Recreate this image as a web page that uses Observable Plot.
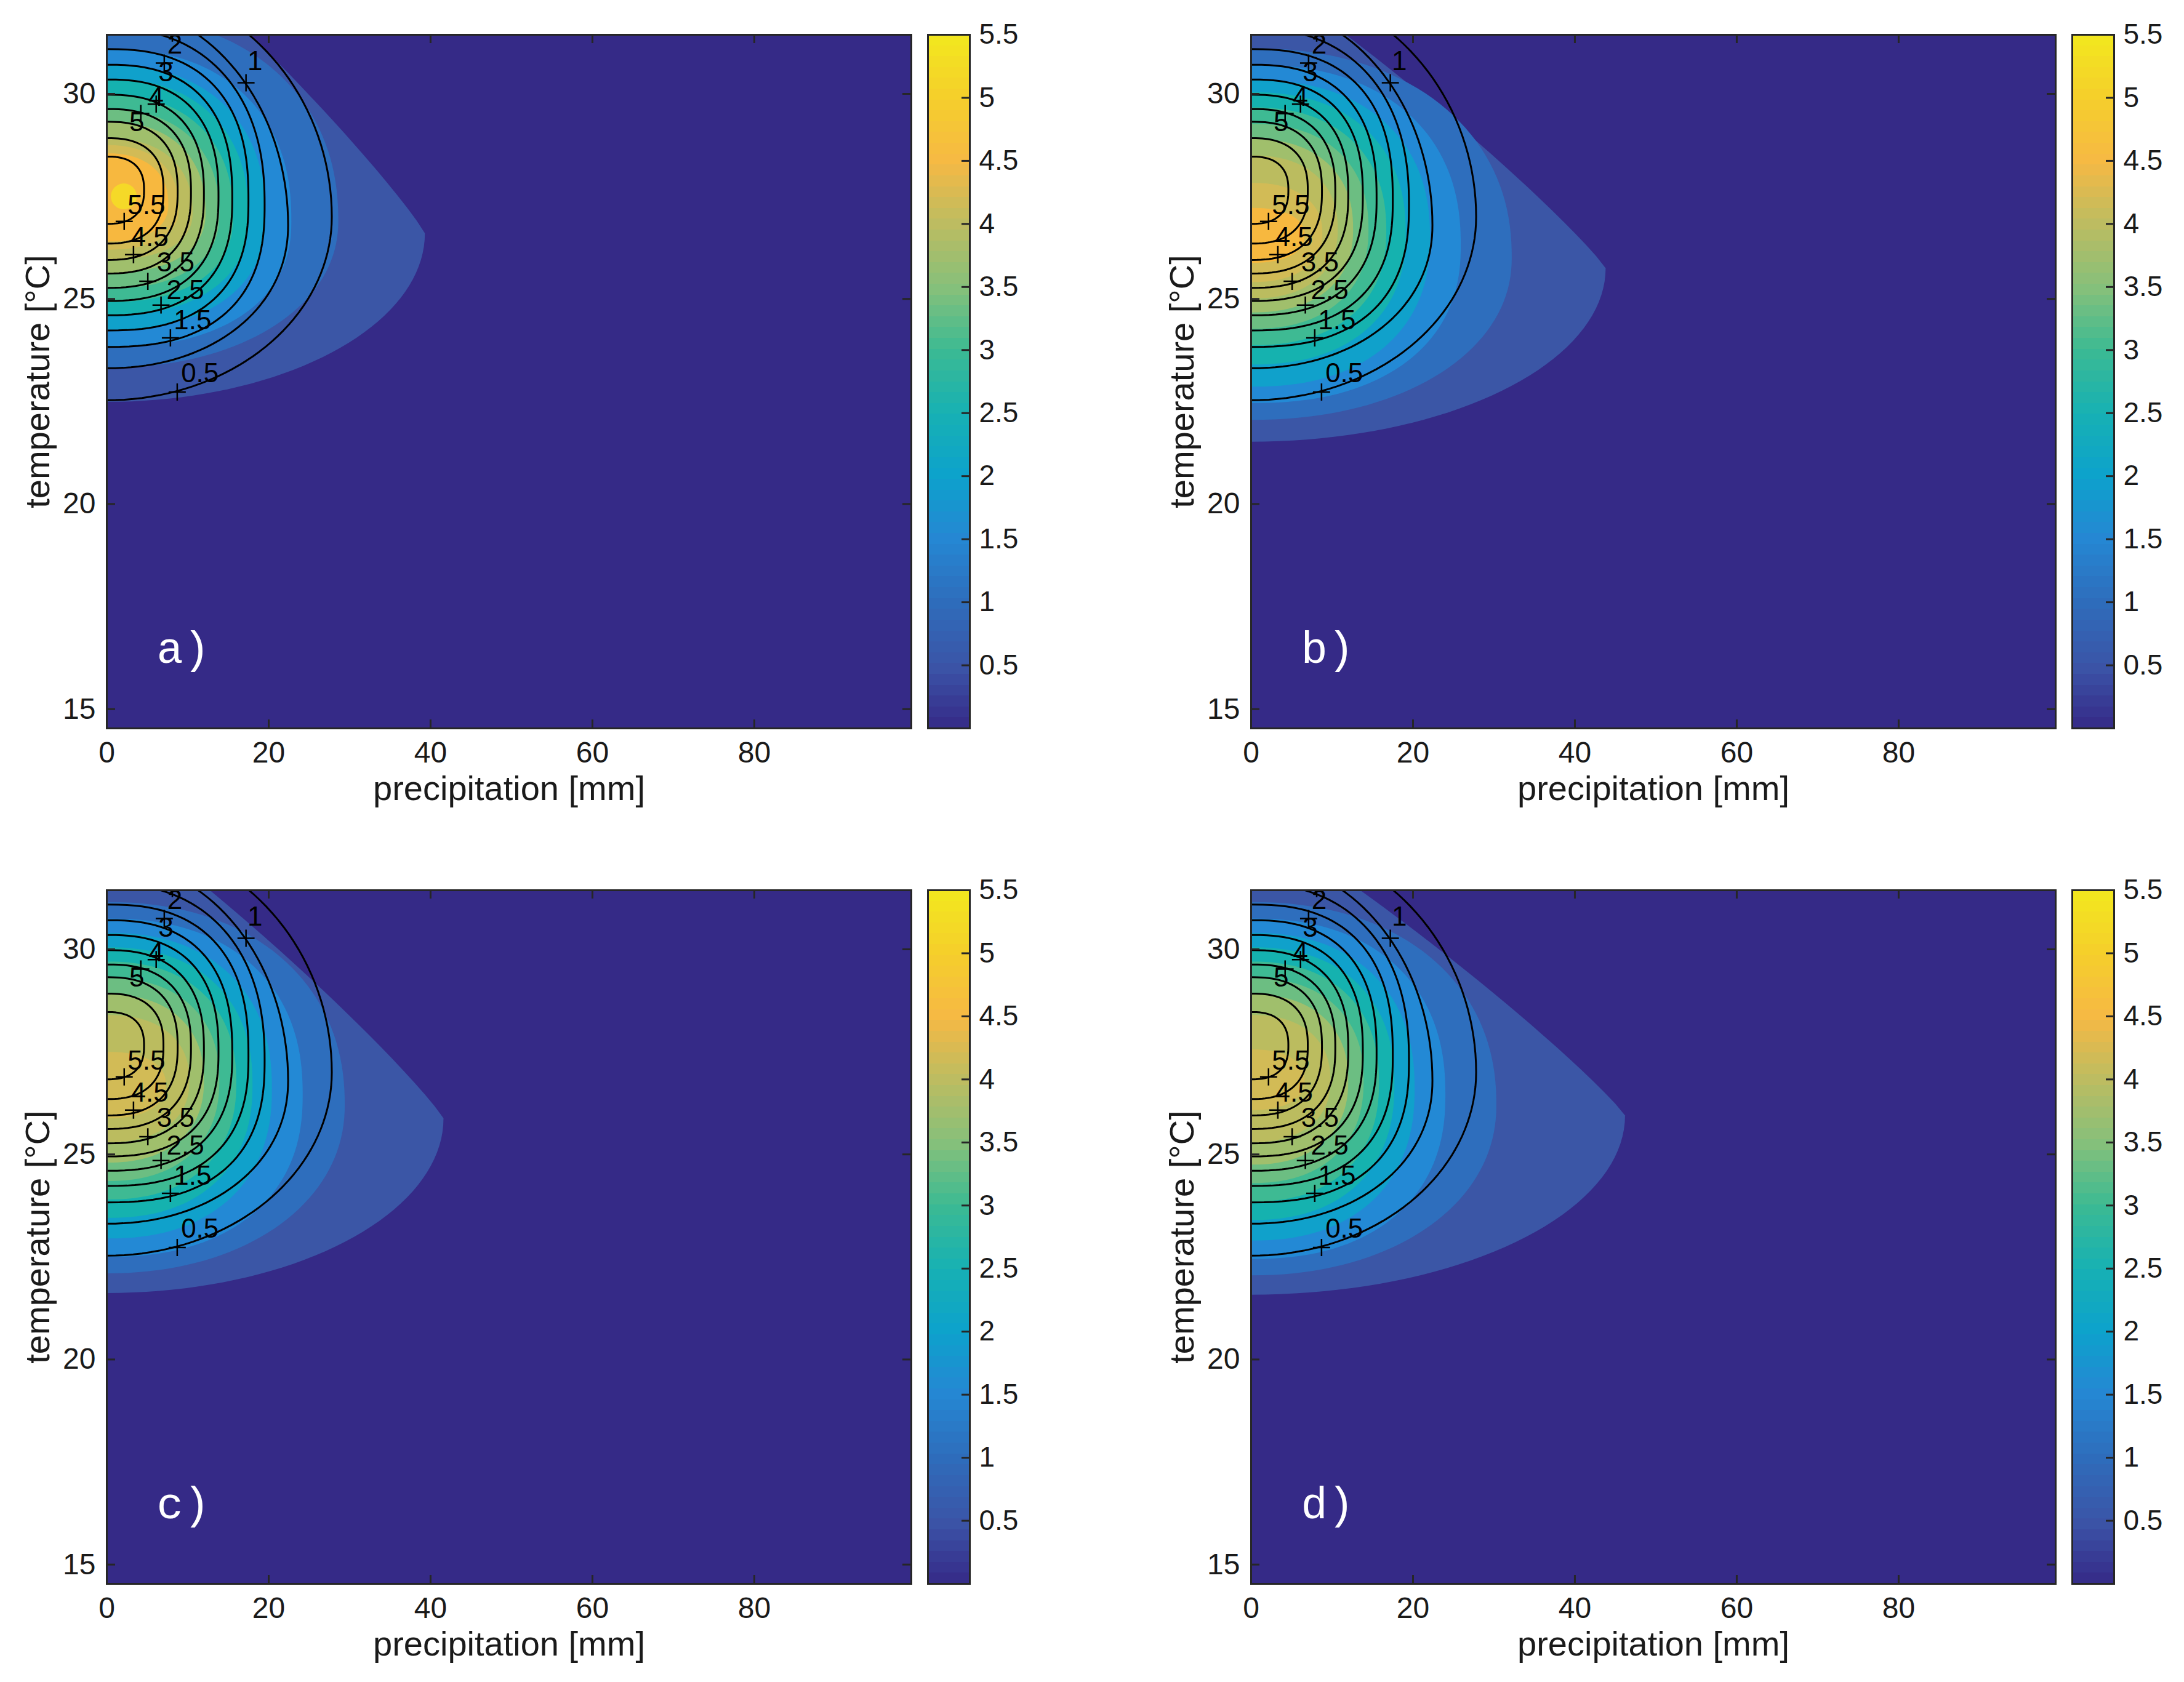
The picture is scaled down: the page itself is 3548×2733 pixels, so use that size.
<!DOCTYPE html>
<html><head><meta charset="utf-8">
<script src="https://cdn.jsdelivr.net/npm/d3@7"></script>
<script src="https://cdn.jsdelivr.net/npm/@observablehq/plot@0.6"></script>
<style>
body{margin:0;background:#fff;}
#chart{position:relative;width:3548px;height:2733px;background:#fff;overflow:hidden;}
.pane{position:absolute;}
.pane svg{max-width:none !important;}
</style></head><body><div id="chart"></div>
<script>
// ---------- axes ----------
const xTicks = [0, 20, 40, 60, 80];
const yTicks = [15, 20, 25, 30];
const cbTicks = [0.5, 1, 1.5, 2, 2.5, 3, 3.5, 4, 4.5, 5, 5.5];
const panelLetters = ["a)", "b)", "c)", "d)"];

// ---------- black reference contours (same in every panel) ----------
const refLevels  = [0.5, 1, 1.5, 2, 2.5, 3, 3.5, 4, 4.5, 5, 5.5];
const refBottomT = [22.53, 23.31, 23.83, 24.23, 24.60, 24.95, 25.27, 25.62, 25.95, 26.35, 26.83];
const refTopT    = [32.73, 32.17, 31.60, 31.09, 30.71, 30.35, 29.98, 29.63, 29.32, 28.92, 28.47];
const refReachP  = [27.8, 22.4, 19.5, 17.5, 15.5, 13.8, 12.0, 10.4, 8.75, 7.0, 4.6];
const refReachT  = [27.0, 26.8, 27.3, 27.4, 27.45, 27.5, 27.55, 27.6, 27.62, 27.64, 27.65];
const refLowerN  = [2.0, 2.1, 2.5, 2.5, 2.5, 2.5, 2.5, 2.5, 2.5, 2.5, 2.5];
const refUpperN  = [2.0, 2.0, 2.3, 2.5, 2.5, 2.5, 2.5, 2.5, 2.5, 2.5, 2.5];
// contour labels ("+" marker and text)
const labelText  = ["0.5", "1", "1.5", "2", "2.5", "3", "3.5", "4", "4.5", "5", "5.5"];
const labelP     = [11.5, 18.3, 10.6, 8.4, 9.7, 7.3, 8.5, 6.1, 5.3, 3.7, 4.9];
const labelT     = [23.18, 30.79, 24.47, 31.2, 25.2, 30.52, 25.88, 29.92, 26.5, 29.3, 27.28];
const plusP      = [8.7, 17.2, 7.86, 8.1, 6.7, 7.1, 5.07, 6.1, 3.3, 4.2, 2.15];
const plusT      = [22.73, 30.27, 24.05, 31.48, 24.85, 30.75, 25.43, 29.75, 26.08, 29.52, 26.89];

// ---------- filled contours ----------
const fillLevels = [0, 0.5, 1, 1.5, 2, 2.5, 3, 3.5, 4, 4.5, 5, 5.5];
const fillLowerN = [2.0, 2.1, 2.3, 2.3, 2.3, 2.3, 2.3, 2.3, 2.3, 2.3, 2.3];
const fillUpperN = [1.1, 2.2, 2.3, 2.3, 2.3, 2.3, 2.3, 2.3, 2.3, 2.3, 2.3];
// panel a
const aBottomT = [22.49, 23.32, 23.82, 24.25, 24.6, 24.92, 25.25, 25.63, 25.95, 26.2, 26.4];
const aTopT    = [34.5, 31.9, 31.1, 30.7, 30.37, 29.97, 29.62, 29.32, 28.92, 28.75, 28.55];
const aReachP  = [39.3, 28.6, 22.8, 19.6, 17.5, 15.6, 13.9, 12.2, 10.6, 8.9, 7.6];
const aReachT  = [26.6, 26.9, 26.9, 27.0, 27.0, 27.0, 27.05, 27.1, 27.1, 27.2, 27.3];
const aPeak    = [{level: 5.5, P: 2.1, T: 27.5}];
// panel b
const bBottomT = [21.52, 22.05, 22.46, 22.86, 23.40, 23.87, 24.27, 24.67, 25.01, 25.41, 25.88];
const bTopT    = [33.0, 31.11, 30.71, 30.34, 30.04, 29.67, 29.27, 28.9, 28.5, 27.83, 27.22];
const bReachP  = [43.8, 32.2, 25.9, 22.1, 19.1, 16.7, 14.5, 12.6, 10.7, 8.8, 6.6];
const bReachT  = [25.75, 26.0, 26.3, 26.5, 26.6, 26.65, 26.7, 26.7, 26.7, 26.6, 26.55];
// panel c
const cBottomT = [21.62, 22.1, 22.5, 22.95, 23.45, 23.9, 24.35, 24.8, 25.3, 25.88];
const cTopT    = [33.3, 31.15, 30.75, 30.4, 30.05, 29.7, 29.3, 28.9, 28.4, 27.5];
const cReachP  = [41.6, 29.4, 24.2, 20.4, 18.0, 16.0, 13.9, 12.0, 10.2, 7.3];
const cReachT  = [25.88, 26.2, 26.45, 26.6, 26.7, 26.75, 26.8, 26.8, 26.8, 26.7];
// panel d
const dBottomT = [21.58, 22.05, 22.45, 22.9, 23.4, 23.85, 24.3, 24.75, 25.3, 26.08];
const dTopT    = [33.15, 31.15, 30.75, 30.4, 30.05, 29.7, 29.3, 28.9, 28.4, 27.56];
const dReachP  = [46.2, 30.3, 24.0, 20.2, 17.7, 15.8, 13.9, 12.0, 9.8, 6.6];
const dReachT  = [25.95, 26.2, 26.45, 26.6, 26.7, 26.75, 26.8, 26.8, 26.8, 26.8];

// ---------- styles ----------
const bgColor = "#352A87";
const bandColors = ["#3B56A6","#2E6EBD","#2389D5","#10A1CB","#15B2AF","#3EBA93","#6CBE82","#A0BF6C","#BBBC5F","#D2BB56","#F7B83F","#F5D928"];
const cbStops  = [0, 0.5, 1, 1.5, 2, 2.5, 3, 3.5, 4, 4.5, 5, 5.5];
const cbColors = ["#352A87","#3B55A8","#2E6DBB","#2587D3","#0DA2CC","#17B1B3","#3CBA93","#87C07A","#BDBC61","#F6B944","#F5CF2B","#F2E81E"];
const axisColor = "#262626";
const FONT = "'Liberation Sans', Arial, Helvetica, sans-serif";
const W = 1307, H = 1127;            // frame size
const ML = 173, MT = 56, MR = 14, MB = 160;
const panelPos = [[0, 0], [1859, 0], [0, 1390], [1859, 1390]];
const cbLeft = 1334;                 // colorbar frame offset from the axes frame
const CBW = 68;

// closed outline of one contour region attached to the P = 0 axis
function outline(level, Tb, Tt, Pm, Tm, nL, nU) {
  const pts = [];
  for (let k = -40; k <= 40; k++) {
    const u = Math.sin(k * Math.PI / 80);
    const n = u < 0 ? nL : nU;
    const P = Pm * Math.pow(Math.max(0, 1 - Math.pow(Math.abs(u), n)), 1 / n);
    const T = Tm + u * (u < 0 ? Tm - Tb : Tt - Tm);
    pts.push({level, P, T});
  }
  return pts;
}

const refLines = refLevels.flatMap((lv, i) =>
  outline(lv, refBottomT[i], refTopT[i], refReachP[i], refReachT[i], refLowerN[i], refUpperN[i]));
const labels = labelText.map((t, i) => ({t, P: labelP[i], T: labelT[i]}));
const pluses = plusP.map((p, i) => ({P: p, T: plusT[i]}));

function panel(idx, bottomT, topT, reachP, reachT, peak) {
  const bands = bottomT.flatMap((tb, i) =>
    outline(fillLevels[i], tb, topT[i], reachP[i], reachT[i], fillLowerN[i], fillUpperN[i]));
  return Plot.plot({
    width: ML + W + MR, height: MT + H + MB,
    marginLeft: ML, marginTop: MT, marginRight: MR, marginBottom: MB,
    x: {domain: [0, 99.4], axis: null},
    y: {domain: [14.53, 31.44], axis: null},
    color: {type: "ordinal", domain: fillLevels, range: bandColors},
    style: {fontFamily: FONT, fontSize: "48px", background: "transparent", color: "#1a1a1a"},
    marks: [
      Plot.frame({fill: bgColor, stroke: "none"}),
      Plot.line(bands, {x: "P", y: "T", z: "level", fill: "level", stroke: "none", curve: "linear", clip: true}),
      peak ? Plot.dot(peak, {x: "P", y: "T", r: 21, fill: "level", stroke: "none", clip: true}) : null,
      Plot.line(refLines, {x: "P", y: "T", z: "level", stroke: "black", strokeWidth: 3, clip: true}),
      Plot.dot(pluses, {x: "P", y: "T", symbol: "plus", r: 9, stroke: "black", strokeWidth: 2.5, clip: true}),
      Plot.text(labels, {x: "P", y: "T", text: "t", fontSize: 44, fill: "black"}),
      Plot.text([panelLetters[idx]], {frameAnchor: "bottom-left", dx: 81, dy: -107, textAnchor: "start",
        fill: "white", fontSize: 72, fontFamily: "'Liberation Mono', 'DejaVu Sans Mono', monospace"}),
      Plot.tickX(xTicks, {x: d => d, stroke: axisColor, strokeWidth: 3, insetTop: H - 14}),
      Plot.tickX(xTicks, {x: d => d, stroke: axisColor, strokeWidth: 3, insetBottom: H - 14}),
      Plot.tickY(yTicks, {y: d => d, stroke: axisColor, strokeWidth: 3, insetRight: W - 14}),
      Plot.tickY(yTicks, {y: d => d, stroke: axisColor, strokeWidth: 3, insetLeft: W - 14}),
      Plot.axisX({ticks: xTicks, tickSize: 0, tickPadding: 21, label: null, fontSize: 48}),
      Plot.axisY({ticks: yTicks, tickSize: 0, tickPadding: 18, label: null, fontSize: 48}),
      Plot.text(["precipitation [mm]"], {frameAnchor: "bottom", dy: 116, textAnchor: "middle", fontSize: 56, fill: "#1a1a1a"}),
      Plot.text(["temperature [°C]"], {frameAnchor: "left", dx: -111, rotate: -90, textAnchor: "middle", fontSize: 56, fill: "#1a1a1a"}),
      Plot.frame({stroke: axisColor, strokeWidth: 3})
    ]
  });
}

const cmap = d3.scaleLinear().domain(cbStops).range(cbColors).interpolate(d3.interpolateRgb);
const cbCells = d3.range(64).map(i => ({y1: i * 5.5 / 64, y2: (i + 1) * 5.5 / 64, c: cmap((i + 0.5) * 5.5 / 64)}));

function colorbar() {
  return Plot.plot({
    width: 10 + CBW + 110, height: MT + H + MB,
    marginLeft: 10, marginRight: 110, marginTop: MT, marginBottom: MB,
    x: {domain: [0, 1], axis: null},
    y: {domain: [0, 5.5], axis: null},
    style: {fontFamily: FONT, fontSize: "46px", background: "transparent", color: "#1a1a1a"},
    marks: [
      Plot.rect(cbCells, {x1: 0, x2: 1, y1: "y1", y2: "y2", fill: "c", shapeRendering: "crispEdges"}),
      Plot.tickY(cbTicks, {y: d => d, stroke: axisColor, strokeWidth: 3, insetLeft: CBW - 13}),
      Plot.axisY({anchor: "right", ticks: cbTicks, tickSize: 0, tickPadding: 15, label: null, fontSize: 46,
        tickFormat: d => String(d)}),
      Plot.frame({stroke: axisColor, strokeWidth: 3})
    ]
  });
}

const root = document.getElementById("chart");
const panels = [
  panel(0, aBottomT, aTopT, aReachP, aReachT, aPeak),
  panel(1, bBottomT, bTopT, bReachP, bReachT, null),
  panel(2, cBottomT, cTopT, cReachP, cReachT, null),
  panel(3, dBottomT, dTopT, dReachP, dReachT, null)
];
panels.forEach((svg, i) => {
  const div = document.createElement("div");
  div.className = "pane";
  div.style.left = panelPos[i][0] + "px";
  div.style.top = panelPos[i][1] + "px";
  div.appendChild(svg);
  root.appendChild(div);
  const cb = document.createElement("div");
  cb.className = "pane";
  cb.style.left = (panelPos[i][0] + ML + cbLeft - 10) + "px";
  cb.style.top = panelPos[i][1] + "px";
  cb.style.width = (10 + CBW + 110) + "px";
  cb.appendChild(colorbar());
  root.appendChild(cb);
});
</script></body></html>
